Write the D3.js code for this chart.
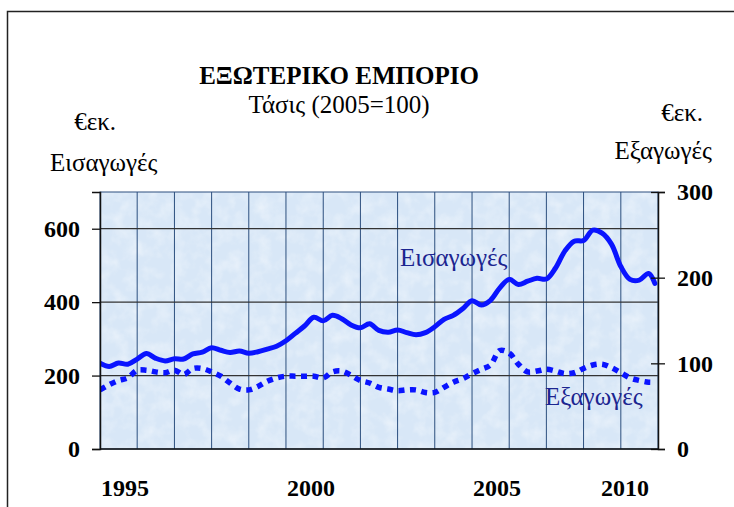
<!DOCTYPE html>
<html>
<head>
<meta charset="utf-8">
<script src="https://cdn.jsdelivr.net/npm/d3@7"></script>
<style>
  body { margin: 0; background: #fff; }
  svg { display: block; }
  text { font-family: "Liberation Serif", "Times New Roman", serif; }
</style>
</head>
<body>
<svg id="chart" width="734" height="507"></svg>
<script>
// quarterly readings, Jan 1995 .. Oct 2009, plus the last (Dec 2009) point
const imports = [234, 225, 234, 231, 245, 260, 247, 240, 246, 245, 259, 264, 276, 269, 263, 267,
  261, 265, 272, 280, 295, 315, 335, 359, 349, 364, 355, 338, 330, 341, 323, 318,
  324, 317, 311, 317, 333, 353, 364, 382, 404, 392, 405, 439, 462, 448, 457, 465,
  463, 493, 539, 566, 568, 596, 588, 558, 497, 462, 460, 478, 451]
const exports = [69, 75, 80, 83, 92, 92, 90, 89, 92, 87, 94, 94, 90, 85, 77, 70,
  69, 73, 79, 83, 85, 85, 85, 85, 83, 90, 91, 86, 80, 77, 72, 70,
  68, 69, 69, 66, 66, 72, 78, 82, 88, 93, 98, 115, 112, 99, 90, 91,
  93, 91, 88, 89, 94, 98, 99, 95, 89, 83, 80, 78, 78]

const leftTicks = [0, 200, 400, 600]
const rightTicks = [0, 100, 200, 300]
const yearLabels = [1995, 2000, 2005, 2010]
const gridYears = d3.range(1996, 2010)

const periods = d3.timeMonth.every(3).range(new Date(1995, 0, 1), new Date(2010, 0, 1))
periods.push(new Date(2009, 11, 1))

const svg = d3.select("#chart")

const x = d3.scaleTime()
  .domain([new Date(1995, 0, 1), new Date(2010, 0, 1)])
  .range([100, 658])
const yL = d3.scaleLinear().domain([0, 700]).range([449, 192])
const yR = d3.scaleLinear().domain([0, 300]).range([449, 192])

const px = x.range()[0], pw = x.range()[1] - x.range()[0]
const py = yL.range()[1], ph = yL.range()[0] - yL.range()[1]

// texture for the plot background
const defs = svg.append("defs")
const f = defs.append("filter").attr("id", "tex")
  .attr("x", 0).attr("y", 0).attr("width", "100%").attr("height", "100%")
f.append("feTurbulence").attr("type", "fractalNoise")
  .attr("baseFrequency", 0.07).attr("numOctaves", 3).attr("seed", 7)
f.append("feColorMatrix").attr("type", "matrix")
  .attr("values", "0 0 0 0 1  0 0 0 0 1  0 0 0 0 1  0 0 0 1.4 -0.55")
defs.append("clipPath").attr("id", "plotclip")
  .append("rect").attr("x", px).attr("y", py).attr("width", pw).attr("height", ph)

// outer frame
svg.append("rect")
  .attr("x", 7.5).attr("y", 11.5).attr("width", 760).attr("height", 540)
  .attr("fill", "none").attr("stroke", "#222").attr("stroke-width", 1.5)

svg.append("rect")
  .attr("x", px).attr("y", py).attr("width", pw).attr("height", ph)
  .attr("fill", "#d8e7f7")
svg.append("rect")
  .attr("x", px).attr("y", py).attr("width", pw).attr("height", ph)
  .attr("filter", "url(#tex)").attr("opacity", 0.55)

// grid
svg.append("g").selectAll("line")
  .data(gridYears)
  .join("line")
  .attr("x1", d => x(new Date(d, 0, 1))).attr("x2", d => x(new Date(d, 0, 1)))
  .attr("y1", py).attr("y2", py + ph)
  .attr("stroke", "#2c4f7e").attr("stroke-width", 1)

svg.append("g").selectAll("line")
  .data(leftTicks.filter(d => d > 0))
  .join("line")
  .attr("x1", px).attr("x2", px + pw)
  .attr("y1", d => yL(d)).attr("y2", d => yL(d))
  .attr("stroke", "#333").attr("stroke-width", 1.3)

svg.append("rect")
  .attr("x", px).attr("y", py).attr("width", pw).attr("height", ph)
  .attr("fill", "none").attr("stroke", "#2c4f7e").attr("stroke-width", 1)

// series
const lineL = d3.line()
  .x((d, i) => x(periods[i]))
  .y(d => yL(d))
  .curve(d3.curveCatmullRom.alpha(0.5))
const lineR = d3.line()
  .x((d, i) => x(periods[i]))
  .y(d => yR(d))
  .curve(d3.curveCatmullRom.alpha(0.5))

const gSeries = svg.append("g").attr("clip-path", "url(#plotclip)")
gSeries.append("path")
  .datum(exports)
  .attr("d", lineR)
  .attr("fill", "none").attr("stroke", "#0a14ff")
  .attr("stroke-width", 5.5).attr("stroke-dasharray", "6,5.5")
gSeries.append("path")
  .datum(imports)
  .attr("d", lineL)
  .attr("fill", "none").attr("stroke", "#0a14ff")
  .attr("stroke-width", 5).attr("stroke-linejoin", "round").attr("stroke-linecap", "round")

// axes
const axL = svg.append("g")
  .attr("transform", `translate(${px},0)`)
  .call(d3.axisLeft(yL).tickValues(leftTicks).tickSize(8).tickPadding(12))
const axR = svg.append("g")
  .attr("transform", `translate(${px + pw},0)`)
  .call(d3.axisRight(yR).tickValues(rightTicks).tickSize(7).tickPadding(12))
axR.selectAll(".tick line").attr("x1", -7)

svg.append("line")
  .attr("x1", px).attr("x2", px + pw)
  .attr("y1", py + ph).attr("y2", py + ph)
  .attr("stroke", "#111").attr("stroke-width", 1.5)

for (const ax of [axL, axR]) {
  ax.select(".domain").attr("stroke", "#111").attr("stroke-width", 1.5)
  ax.selectAll(".tick line").attr("stroke", "#111").attr("stroke-width", 1.3)
  ax.selectAll(".tick text")
    .attr("font-family", "Liberation Serif")
    .attr("font-size", 24).attr("font-weight", "bold").attr("fill", "#000")
}

svg.append("g").selectAll("text")
  .data(yearLabels)
  .join("text")
  .attr("x", (d, i) => i == yearLabels.length - 1 ? x(new Date(d, 0, 1)) - 9 : x(new Date(d, 0, 1)) + 1)
  .attr("y", 496)
  .attr("text-anchor", (d, i) => i == yearLabels.length - 1 ? "end" : "start")
  .attr("font-size", 24).attr("font-weight", "bold")
  .text(d => d)

// titles
svg.append("text")
  .attr("x", 339).attr("y", 84).attr("text-anchor", "middle")
  .attr("font-size", 25).attr("font-weight", "bold")
  .text("ΕΞΩΤΕΡΙΚΟ ΕΜΠΟΡΙΟ")
svg.append("text")
  .attr("x", 339).attr("y", 113).attr("text-anchor", "middle")
  .attr("font-size", 25)
  .text("Τάσις (2005=100)")

svg.append("text").attr("x", 116).attr("y", 130).attr("text-anchor", "end")
  .attr("font-size", 25).text("€εκ.")
svg.append("text").attr("x", 50).attr("y", 171)
  .attr("font-size", 25).text("Εισαγωγές")
svg.append("text").attr("x", 703).attr("y", 121).attr("text-anchor", "end")
  .attr("font-size", 25).text("€εκ.")
svg.append("text").attr("x", 712).attr("y", 159).attr("text-anchor", "end")
  .attr("font-size", 25).text("Εξαγωγές")

svg.append("text").attr("x", 400).attr("y", 266)
  .attr("font-size", 25).attr("fill", "#1c2590").text("Εισαγωγές")
svg.append("text").attr("x", 545).attr("y", 405)
  .attr("font-size", 25).attr("fill", "#1c2590").text("Εξαγωγές")
</script>
</body>
</html>
